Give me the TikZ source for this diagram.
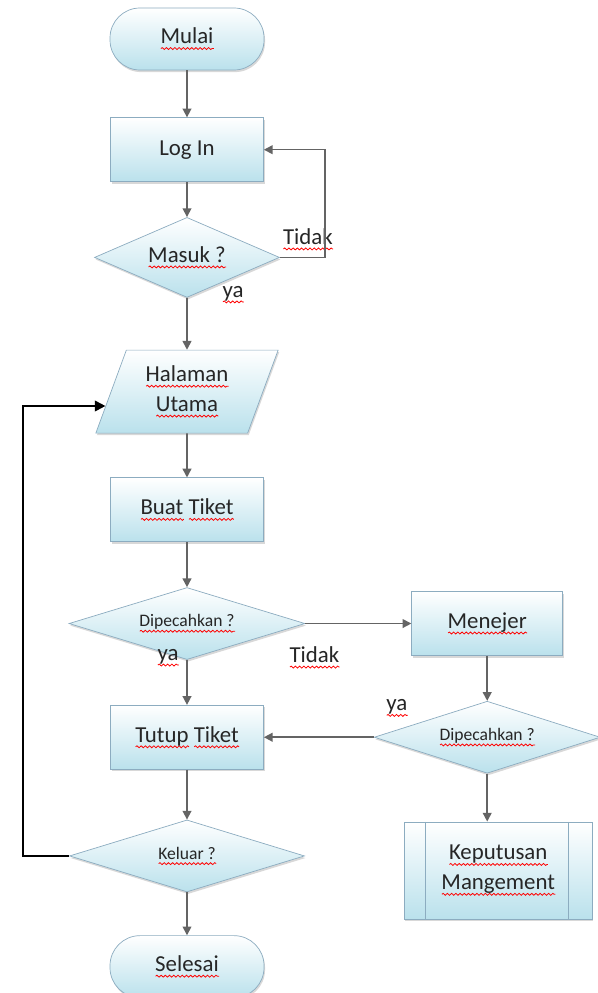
\documentclass[tikz,border=0pt]{standalone}
\usepackage{fontspec}
\setmainfont{Carlito}
\usetikzlibrary{shapes.geometric, arrows.meta, positioning, shadows, decorations.pathmorphing}

\definecolor{boxfill}{RGB}{186,225,236}
\definecolor{boxline}{RGB}{140,172,192}
\definecolor{linegray}{RGB}{100,100,100}

% red wavy underline, like the spell checker marks
\newsavebox\typobox
\newcommand\typo[1]{\sbox\typobox{#1}\rlap{\tikz[baseline=0pt]\draw[red, sharp corners, solid, line width=0.45pt, decorate, decoration={snake, amplitude=0.55pt, segment length=2.4pt}] (0,-2.6pt) -- (\wd\typobox,-2.6pt);}\usebox\typobox}

\begin{document}
\begin{tikzpicture}[
      every node/.style={font=\fontsize{13}{17}\selectfont, text=black!85},
      box/.style={draw=boxline, top color=white, bottom color=boxfill, drop shadow={shadow xshift=0.6pt, shadow yshift=-1.2pt, fill=black!30}, inner sep=2pt},
      term/.style={box, rectangle, rounded corners=0.6cm, minimum width=3.08cm, minimum height=1.24cm},
      proc/.style={box, rectangle, minimum width=3.06cm, minimum height=1.28cm},
      decision/.style={box, diamond, inner sep=0pt},
      io/.style={box, trapezium, trapezium left angle=69, trapezium right angle=111, trapezium stretches=true, minimum width=3.66cm, minimum height=1.66cm, align=center},
      predef/.style={proc, align=center, path picture={
          \draw[boxline] ([xshift=0.42cm]path picture bounding box.north west) -- ([xshift=0.42cm]path picture bounding box.south west)
                         ([xshift=-0.48cm]path picture bounding box.north east) -- ([xshift=-0.48cm]path picture bounding box.south east);}},
      small/.style={font=\fontsize{10}{12}\selectfont},
      arrow/.style={draw=linegray, line width=0.9pt, -{Triangle[length=5pt, width=5pt]}},
      back/.style={draw=black, line width=1.1pt, -{Triangle[length=6pt, width=6pt]}}
    ]
    \useasboundingbox (0,0) rectangle (11.94,-19.86);

    % main column
    \node[term] (mulai) at (3.74,-0.78) {\typo{Mulai}};
    \node[proc, below=0.94cm of mulai] (login) {Log In};
    \node[decision, aspect=2.3, minimum width=3.7cm, minimum height=1.6cm, below=0.7cm of login] (masuk) {\typo{Masuk ?}};
    \node[io, below=1.04cm of masuk] (halaman) {\typo{Halaman}\\\typo{Utama}};
    \node[proc, below=0.88cm of halaman] (buat) {\typo{Buat} \typo{Tiket}};
    \node[decision, small, aspect=3.3, minimum width=4.72cm, minimum height=1.44cm, below=0.9cm of buat] (pecah) {\typo{Dipecahkan ?}};
    \node[proc, below=0.9cm of pecah] (tutup) {\typo{Tutup} \typo{Tiket}};
    \node[decision, small, aspect=3.3, minimum width=4.7cm, minimum height=1.44cm, below=1cm of tutup] (keluar) {\typo{Keluar ?}};
    \node[term, below=0.86cm of keluar] (selesai) {\typo{Selesai}};

    % right column
    \node[proc, minimum width=3.02cm, right=2.12cm of pecah] (menejer) {\typo{Menejer}};
    \node[decision, small, aspect=3.1, minimum width=4.52cm, minimum height=1.44cm, below=0.9cm of menejer] (pecah2) {\typo{Dipecahkan ?}};
    \node[predef, minimum width=3.76cm, minimum height=1.94cm, below=0.96cm of pecah2, xshift=0.22cm] (keputusan) {\typo{Keputusan}\\\typo{Mangement}};

    % labels
    \node (tidak1) at ([xshift=0.56cm, yshift=0.36cm]masuk.east) {\typo{Tidak}};
    \node (ya1) at ([xshift=0.92cm, yshift=0.06cm]masuk.south) {\typo{ya}};
    \node (ya2) at ([xshift=-0.38cm, yshift=0.04cm]pecah.south) {\typo{ya}};
    \node (tidak2) at ([xshift=0.18cm, yshift=-0.68cm]pecah.east) {\typo{Tidak}};
    \node (ya3) at ([xshift=0.46cm, yshift=0.58cm]pecah2.west) {\typo{ya}};

    \draw[arrow] (mulai) -- (login);
    \draw[arrow] (login) -- (masuk);
    \draw[arrow] (masuk) -- (halaman);
    \draw[arrow] (halaman) -- (buat);
    \draw[arrow] (buat) -- (pecah);
    \draw[arrow] (pecah) -- (tutup);
    \draw[arrow] (tutup) -- (keluar);
    \draw[arrow] (keluar) -- (selesai);
    \draw[arrow] (masuk.east) -- ++(0.9,0) |- (login.east);
    \draw[arrow] (pecah) -- (menejer);
    \draw[arrow] (menejer) -- (pecah2);
    \draw[arrow] (pecah2.west) -- (pecah2.west -| tutup.east);
    \draw[arrow] (pecah2.south) -- (pecah2.south |- keputusan.north);
    \draw[back] (keluar.west) -- ++(-0.92,0) |- (halaman.190);
  \end{tikzpicture}
\end{document}
